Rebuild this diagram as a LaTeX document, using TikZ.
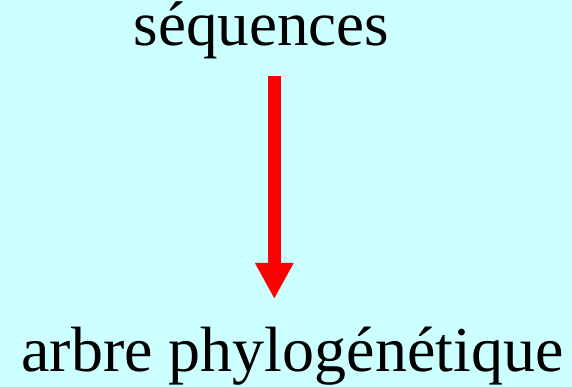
\documentclass[tikz,border=0pt]{standalone}
\usepackage{fontspec}
\setmainfont{Liberation Serif}
\usetikzlibrary{arrows.meta}
\definecolor{bgcyan}{HTML}{CCFFFF}
\tikzset{
  label text/.style={anchor=base, inner sep=0pt, text=black},
  red arrow/.style={draw=red, line width=12.5pt, -{Triangle[width=36pt,length=36pt]}}
}
\begin{document}
\begin{tikzpicture}[x=1pt,y=1pt]
\fill[bgcyan] (0,0) rectangle (572,387);
\useasboundingbox (0,0) rectangle (572,387);
\node[label text, font=\fontsize{63}{70}\selectfont, text height=40pt] (seq) at (261.5,341.5) {séquences};
\node[label text, font=\fontsize{64}{70}\selectfont] (arb) at (292.5,15.3) {arbre phylogénétique};
\coordinate (astart) at (274.3,311);
\coordinate (aend) at (274.3,88);
\draw[red arrow] (astart) -- (aend);
\end{tikzpicture}
\end{document}
